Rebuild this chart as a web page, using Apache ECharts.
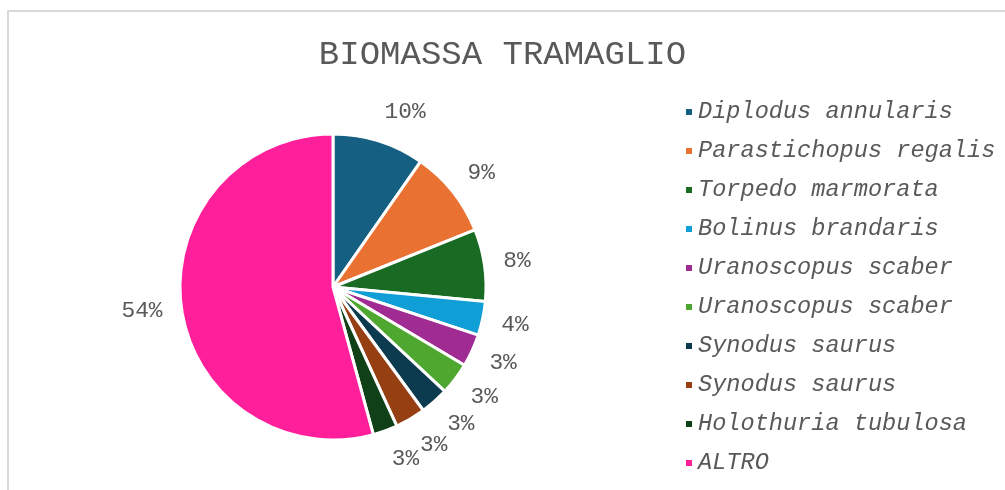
<!DOCTYPE html>
<html>
<head>
<meta charset="utf-8">
<title>Biomassa tramaglio</title>
<script src="https://cdn.jsdelivr.net/npm/echarts@6/dist/echarts.min.js"></script>
<style>
  html, body { margin: 0; padding: 0; background: #fff; }
  #wrap { position: relative; width: 1005px; height: 490px; overflow: hidden; }
  #frame { position: absolute; left: 7px; top: 10px; width: 1100px; height: 600px;
           border-left: 2px solid #d9d9d9; border-top: 2px solid #d9d9d9; }
  #chart { position: absolute; left: 0; top: 0; width: 1005px; height: 490px; }
</style>
</head>
<body>
<div id="wrap">
  <div id="frame"></div>
  <div id="chart"></div>
</div>
<script>
// specie (nell'ordine della legenda)
var species = [
  'Diplodus annularis',
  'Parastichopus regalis',
  'Torpedo marmorata',
  'Bolinus brandaris',
  'Uranoscopus scaber',
  'Uranoscopus scaber',
  'Synodus saurus',
  'Synodus saurus',
  'Holothuria tubulosa',
  'ALTRO'
]
// quota di biomassa (%)
var biomass = [9.7, 9.2, 7.6, 3.6, 3.45, 3.4, 3.0, 3.2, 2.6, 54.25]
var colors = ['#156082', '#e97132', '#196b24', '#0f9ed5', '#a02b93',
  '#4ea72e', '#0c3a4f', '#953f13', '#0f4017', '#ff1f9b']

var mono = '"Liberation Mono", "DejaVu Sans Mono", monospace'
var labelGap = 19 // distanza dell'etichetta dal bordo della torta

// le due "Uranoscopus scaber" / "Synodus saurus" sono voci distinte
var pieData = species.map(function (name, i) {
  return { name: name + '\u200b'.repeat(i), value: biomass[i], itemStyle: { color: colors[i] } }
})

var chart = echarts.init(document.getElementById('chart'), null, { renderer: 'canvas' })

// etichette appoggiate al raggio medio della fetta, come in Excel
function placeLabel(params) {
  var data = chart.getModel().getSeriesByIndex(0).getData()
  var lay = data.getItemLayout(params.dataIndex)
  var mid = (lay.startAngle + lay.endAngle) / 2
  var dx = Math.cos(mid)
  var dy = Math.sin(mid)
  var d = lay.r + labelGap
  var w = params.labelRect.width
  var h = params.labelRect.height
  return {
    x: lay.cx + dx * d + (dx >= 0 ? 1 : -1) * w / 2,
    y: lay.cy + dy * d + dy * h / 2,
    align: 'center',
    verticalAlign: 'middle',
    hideOverlap: false
  }
}

chart.setOption({
  animation: false,
  title: {
    text: 'BIOMASSA TRAMAGLIO',
    left: 'center',
    top: 33,
    textStyle: { fontFamily: mono, fontSize: 34, fontWeight: 'normal', color: '#595959' }
  },
  legend: {
    orient: 'vertical',
    left: 679,
    top: 95,
    itemWidth: 8,
    itemHeight: 8,
    itemGap: 15,
    icon: 'rect',
    data: pieData.map(function (d) { return d.name }),
    formatter: function (name) { return name.replace(/\u200b/g, '') },
    textStyle: {
      fontFamily: mono,
      fontStyle: 'italic',
      fontSize: 23.6,
      color: '#595959'
    }
  },
  series: [{
    type: 'pie',
    center: [333, 287],
    radius: 153,
    startAngle: 90,
    clockwise: true,
    avoidLabelOverlap: false,
    percentPrecision: 0,
    itemStyle: { borderColor: '#fff', borderWidth: 3 },
    label: {
      show: true,
      position: 'outside',
      formatter: '{d}%',
      fontFamily: mono,
      fontSize: 22.8,
      color: '#595959'
    },
    labelLine: { show: false, length: 15, length2: 0 },
    labelLayout: placeLabel,
    emphasis: { disabled: true },
    data: pieData
  }]
})
</script>
</body>
</html>
